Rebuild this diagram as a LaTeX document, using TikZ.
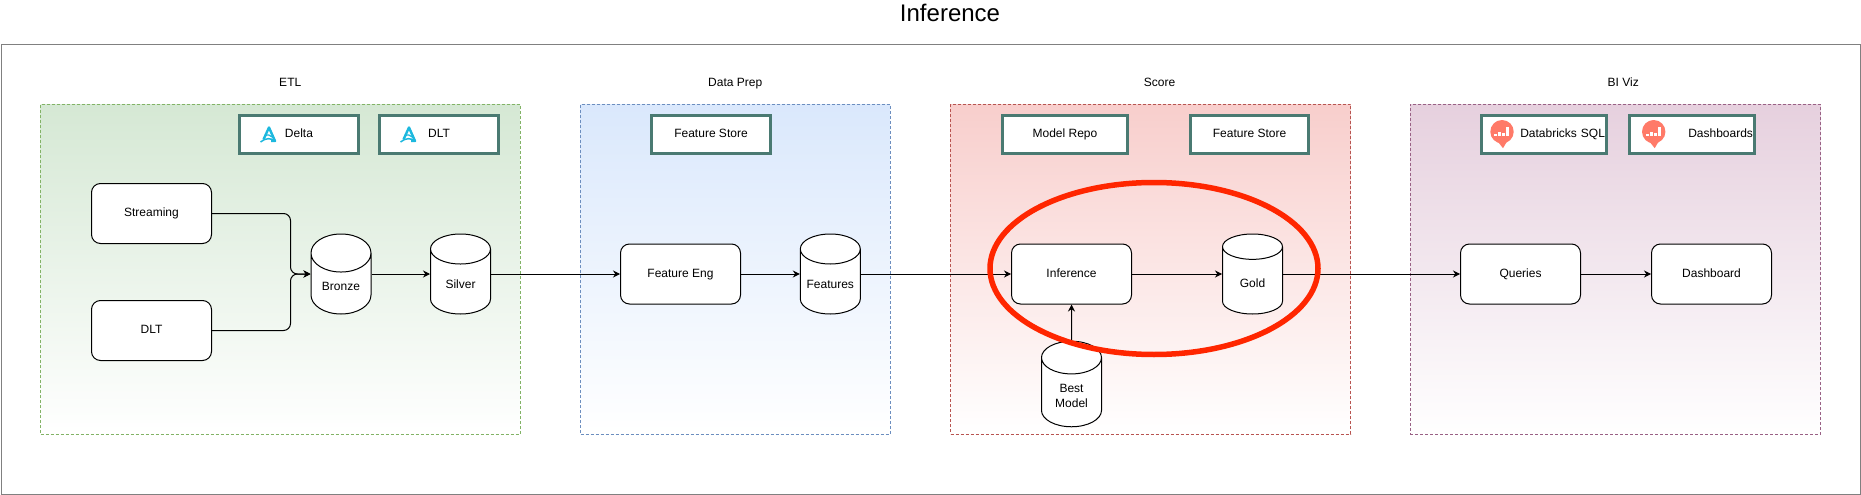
\documentclass[tikz,border=0pt]{standalone}
\usepackage{fontspec}
\setmainfont{Liberation Sans}
\usetikzlibrary{shapes.geometric,arrows.meta,positioning}
\definecolor{toolgreen}{HTML}{4A7A72}
\definecolor{circled}{HTML}{FF2600}
\definecolor{deltablue}{HTML}{1CB8DE}
\definecolor{sqlred}{HTML}{FF7A68}
\definecolor{etlfill}{HTML}{D5E8D4}
\definecolor{etlline}{HTML}{82B366}
\definecolor{prepfill}{HTML}{DAE8FC}
\definecolor{prepline}{HTML}{6C8EBF}
\definecolor{scorefill}{HTML}{F8CECC}
\definecolor{scoreline}{HTML}{B85450}
\definecolor{vizfill}{HTML}{E6D0DE}
\definecolor{vizline}{HTML}{996185}

\begin{document}
\begin{tikzpicture}[
    x=1pt, y=-1pt,
    every node/.style={font=\fontsize{12}{15}\selectfont},
    panel/.style={rectangle, draw, line width=0.8pt, dash pattern=on 3pt off 2pt, minimum height=330pt, anchor=north west, inner sep=0pt, outer sep=0pt, bottom color=white},
    heading/.style={text height=9pt, text depth=3pt, inner sep=0pt},
    tool/.style={rectangle, draw=toolgreen, line width=3pt, fill=white, minimum height=38pt, align=center, inner sep=0pt, text height=9pt, text depth=3pt},
    toolright/.style={tool, text width=121.5pt, inner xsep=2pt, align=right},
    proc/.style={rectangle, rounded corners=9pt, draw=black, line width=1pt, fill=white, minimum width=120pt, minimum height=60pt, align=center, text height=9pt, text depth=3pt},
    store/.style={cylinder, shape border rotate=90, draw=black, line width=1pt, fill=white, minimum width=60pt, minimum height=80pt, aspect=1, align=center, inner sep=0pt, anchor=shape center, text height=17pt, text depth=3pt},
    link/.style={line width=1pt, -{Stealth[length=7pt,width=7pt]}},
    deltalogo/.pic={
        \draw[deltablue, line width=2.4pt, line join=round] (-5.5,5.5) -- (0,-6.5) -- (6,7) -- (2,7);
        \draw[deltablue, line width=1.5pt] (-8.5,8) .. controls (-3,3.5) and (2,4) .. (6,7);
        \draw[deltablue, line width=1.2pt] (-4,2) .. controls (-1,0) and (1,1) .. (3,3);
    },
    sqllogo/.pic={
        \fill[sqlred] (0,0) circle (11.7);
        \fill[sqlred] (-5,9) -- (1,16.5) -- (6,8) -- cycle;
        \foreach \barx/\barh in {-6.5/2, -2.5/4.5, 1.5/3.5, 5.5/9}
            \fill[white] (\barx-1.3,4.5) rectangle (\barx+1.3,4.5-\barh);
    }
]

\useasboundingbox (0,0) rectangle (1861,495);

\node[rectangle, draw=gray, line width=1pt, minimum width=1859pt, minimum height=449.5pt, anchor=north west, inner sep=0pt, outer sep=0pt] (frame) at (1,44.5) {};
\node[font=\fontsize{24}{28}\selectfont] (title) at (950,13) {Inference};

% panels
\node[panel, minimum width=479.5pt, draw=etlline, top color=etlfill] (etl) at (40.5,104) {};
\node[panel, minimum width=309.5pt, draw=prepline, top color=prepfill] (prep) at (580.5,104) {};
\node[panel, minimum width=400pt, draw=scoreline, top color=scorefill] (score) at (950.5,104) {};
\node[panel, minimum width=410.5pt, draw=vizline, top color=vizfill] (viz) at (1410,104) {};

\node[heading, above=14pt of etl, xshift=10pt] (etltitle) {ETL};
\node[heading, above=14pt of prep] (preptitle) {Data Prep};
\node[heading, above=14pt of score, xshift=9pt] (scoretitle) {Score};
\node[heading, above=14pt of viz, xshift=8pt] (viztitle) {BI Viz};

% tools
\node[tool, minimum width=119pt] (delta) at (299,134.5) {Delta};
\node[tool, minimum width=119pt, right=18pt of delta] (dlttool) {DLT};
\node[tool, minimum width=118.5pt] (storeprep) at (711,134.5) {Feature Store};
\node[tool, minimum width=125pt] (repo) at (1065,134.5) {Model Repo};
\node[tool, minimum width=118pt] (storescore) at (1249.5,134.5) {Feature Store};
\node[toolright] (sqltool) at (1544.2,134.5) {Databricks SQL};
\node[toolright, right=19.5pt of sqltool] (dashtool) {Dashboards};

\pic at (269,134) {deltalogo};
\pic at (409,134) {deltalogo};
\pic at (1502,131.7) {sqllogo};
\pic at (1653.7,131.7) {sqllogo};

% process nodes
\node[proc] (streaming) at (151.5,213.5) {Streaming};
\node[proc, below=56pt of streaming] (dlt) {DLT};
\node[store] (bronze) at (341,274) {Bronze};
\node[store] (silver) at (460.5,274) {Silver};
\node[proc] (eng) at (680.5,274) {Feature Eng};
\node[store] (features) at (830.3,274) {\makebox[30pt]{Features}};
\node[proc] (inference) at (1071.5,274) {Inference};
\node[store] (gold) at (1252.5,274) {Gold};
\node[store, text height=33pt] (best) at (1071.5,384) {Best\\Model};
\node[proc] (queries) at (1520.5,274) {Queries};
\node[proc, right=70pt of queries] (dash) {Dashboard};

\coordinate (merge) at (290.5,274);
\draw[link, rounded corners=7pt] (streaming.east) -| (merge) -- (bronze.west |- merge);
\draw[link, rounded corners=7pt] (dlt.east) -| (merge) -- (bronze.west |- merge);
\draw[link] (bronze.east |- merge) -- (silver.west |- merge);
\draw[link] (silver.east |- merge) -- (eng.west);
\draw[link] (eng.east) -- (features.west |- merge);
\draw[link] (features.east |- merge) -- (inference.west);
\draw[link] (inference.east) -- (gold.west |- merge);
\draw[link] (gold.east |- merge) -- (queries.west);
\draw[link] (queries.east) -- (dash.west);
\draw[link] (best.north) -- (inference.south);

\node[ellipse, draw=circled, line width=5.5pt, minimum width=328pt, minimum height=172pt, inner sep=0pt] (focus) at (1154,268.5) {};

\end{tikzpicture}
\end{document}
